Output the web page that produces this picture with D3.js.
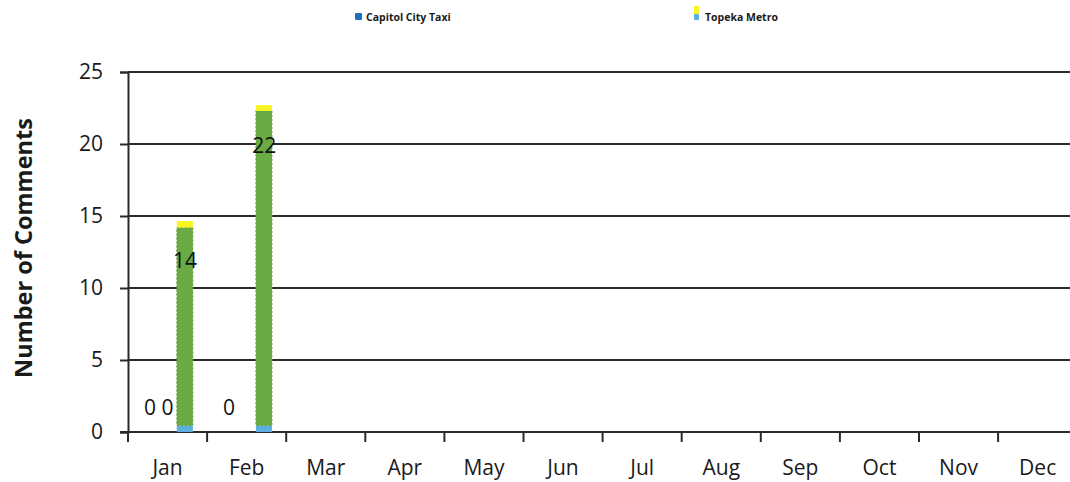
<!DOCTYPE html>
<html><head><meta charset="utf-8">
<script src="https://cdn.jsdelivr.net/npm/d3@7"></script>
<style>body{margin:0;background:#fff}svg{display:block}</style>
</head><body>
<svg id="chart" width="1070" height="482"></svg>
<script>
// ---- data ----
const months = ["Jan","Feb","Mar","Apr","May","Jun","Jul","Aug","Sep","Oct","Nov","Dec"];
const capitolCityTaxi = [0,0,null,null,null,null,null,null,null,null,null,null];
const unlabeledSeries = [0,null,null,null,null,null,null,null,null,null,null,null];
const topekaMetro = [14,22,null,null,null,null,null,null,null,null,null,null];
// stacked parts of the Topeka Metro bar as drawn (base / body / cap)
const topekaBase = [0.45,0.45,null,null,null,null,null,null,null,null,null,null];
const topekaBody = [13.75,21.85,null,null,null,null,null,null,null,null,null,null];
const topekaCap = [0.45,0.4,null,null,null,null,null,null,null,null,null,null];
const yTicks = [0,5,10,15,20,25];
const seriesKeys = ["Capitol City Taxi","(unlabeled)","Topeka Metro"];

// ---- layout ----
const svg = d3.select("#chart");
const font = "'Open Sans', 'Liberation Sans', sans-serif";
const plotLeft = 128, plotTop = 72, plotBottom = 432, step = 79.1;
const x = d3.scaleBand().domain(months).range([plotLeft, plotLeft + step * months.length]).padding(0);
const x1 = d3.scaleBand().domain(seriesKeys).range([13.25, step - 13.25]).padding(0);
const y = d3.scaleLinear().domain([0,25]).range([plotBottom, plotTop]);

// gridlines
svg.append("g").selectAll("line").data(yTicks.filter(d => d > 0)).join("line")
  .attr("x1", plotLeft).attr("x2", 1070)
  .attr("y1", d => y(d)).attr("y2", d => y(d))
  .attr("stroke", "#2a2a2a").attr("stroke-width", 2);

// y axis
const yAxis = svg.append("g").attr("transform", `translate(${plotLeft},0)`)
  .call(d3.axisLeft(y).tickValues(yTicks).tickSize(8).tickPadding(17).tickFormat(d3.format("d")));
yAxis.select(".domain").attr("stroke", "#2a2a2a").attr("stroke-width", 2);
yAxis.selectAll(".tick line").attr("stroke", "#2a2a2a").attr("stroke-width", 2);
yAxis.selectAll("text").attr("font-family", font).attr("font-size", 21).attr("fill", "#1a1a1a");

// x axis
const xAxis = svg.append("g").attr("transform", `translate(0,${plotBottom})`)
  .call(d3.axisBottom(x).tickSize(0).tickPadding(28));
xAxis.select(".domain").remove();
xAxis.append("line").attr("x1", plotLeft - 8).attr("x2", 1070).attr("y1", 0).attr("y2", 0)
  .attr("stroke", "#2a2a2a").attr("stroke-width", 2);
xAxis.selectAll(".tickmark").data(months).join("line").attr("class", "tickmark")
  .attr("x1", d => x(d)).attr("x2", d => x(d)).attr("y1", 0).attr("y2", 10)
  .attr("stroke", "#2a2a2a").attr("stroke-width", 2);
xAxis.selectAll(".tick text").attr("font-family", font).attr("font-size", 21).attr("fill", "#1a1a1a");

// Topeka Metro stacked bar
const metroKey = "Topeka Metro";
const bw = x1.bandwidth();
const stacks = months.map((m, i) => ({m, i})).filter(d => topekaMetro[d.i] != null);
const parts = [
  {arr: topekaBase, color: "#5aaee0"},
  {arr: topekaBody, color: "#6aab45"},
  {arr: topekaCap, color: "#f8f520"}
];
stacks.forEach(d => {
  let acc = 0;
  parts.forEach(p => {
    const v = p.arr[d.i];
    svg.append("rect")
      .attr("x", x(d.m) + x1(metroKey) + 0.5)
      .attr("width", bw - 1.5)
      .attr("y", y(acc + v))
      .attr("height", y(acc) - y(acc + v))
      .attr("fill", p.color)
      .attr("stroke", p.color === "#6aab45" ? "#5e9e3c" : "none")
      .attr("stroke-dasharray", "2,2").attr("stroke-width", 1);
    acc += v;
  });
});

// data labels
const labelData = [];
[[capitolCityTaxi, seriesKeys[0]], [unlabeledSeries, seriesKeys[1]], [topekaMetro, seriesKeys[2]]]
  .forEach(([arr, key]) => arr.forEach((v, i) => { if (v != null) labelData.push({m: months[i], key, v}); }));
svg.append("g").selectAll("text").data(labelData).join("text")
  .attr("x", d => x(d.m) + x1(d.key) + bw / 2)
  .attr("y", d => d.v > 0 ? y(d.v) + 30 : y(0) - 25)
  .attr("dy", "0.36em")
  .attr("text-anchor", "middle")
  .attr("font-family", font).attr("font-size", 21).attr("fill", "#111")
  .text(d => d.v);

// y title
svg.append("text")
  .attr("transform", `translate(32,248) rotate(-90)`)
  .attr("text-anchor", "middle")
  .attr("font-family", font).attr("font-weight", "bold").attr("font-size", 23.5).attr("fill", "#1a1a1a")
  .text("Number of Comments");

// legend
const legend = [
  {name: "Capitol City Taxi", x: 355, colors: ["#1f6fc1"]},
  {name: "Topeka Metro", x: 694, colors: ["#f8f520", "#5aaee0"]}
];
legend.forEach(l => {
  if (l.colors.length === 1) {
    svg.append("rect").attr("x", l.x).attr("y", 13).attr("width", 7).attr("height", 7).attr("rx", 1).attr("fill", l.colors[0]);
  } else {
    svg.append("rect").attr("x", l.x).attr("y", 6).attr("width", 5).attr("height", 8).attr("fill", l.colors[0]);
    svg.append("rect").attr("x", l.x).attr("y", 14).attr("width", 5).attr("height", 6).attr("rx", 1).attr("fill", l.colors[1]);
  }
  svg.append("text").attr("x", l.x + 11).attr("y", 21)
    .attr("font-family", font).attr("font-weight", "bold").attr("font-size", 10.5).attr("fill", "#1a1a1a")
    .text(l.name);
});
</script>
</body></html>
